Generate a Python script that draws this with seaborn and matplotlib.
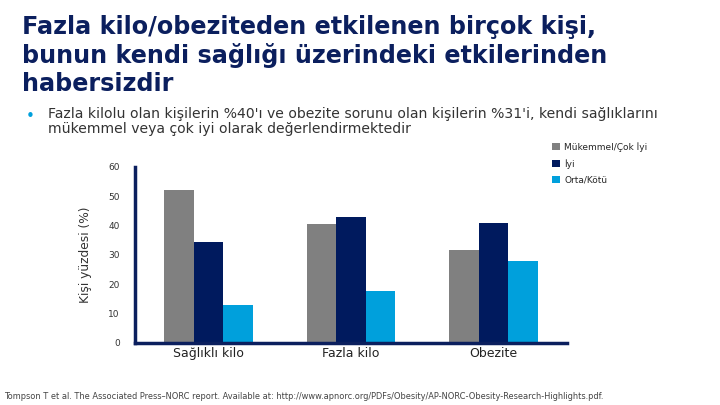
import matplotlib
matplotlib.use("Agg")
import matplotlib.pyplot as plt
import seaborn as sns
import pandas as pd
from matplotlib.patches import Patch

categories = ["Sağlıklı kilo", "Fazla kilo", "Obezite"]
series_names = ["Mükemmel/Çok İyi", "İyi", "Orta/Kötü"]
excellent = [52, 40.5, 31.5]
good = [34.5, 43, 41]
fair_poor = [13, 17.5, 28]
yticks = [0, 10, 20, 30, 40, 50, 60]

colors = ["#808080", "#001a5e", "#00a0dc"]
navy_text = "#0b1f5e"

rows = []
for name, vals in zip(series_names, [excellent, good, fair_poor]):
    for c, v in zip(categories, vals):
        rows.append({"Kategori": c, "Seri": name, "Değer": v})
df = pd.DataFrame(rows)

sns.set_theme(style="white")
plt.rcParams['font.family'] = ['DejaVu Sans']

fig = plt.figure(figsize=(7.2, 4.05), dpi=100)
ax = fig.add_axes([0.1875, 0.154, 0.6, 0.434])

sns.barplot(data=df, x="Kategori", y="Değer", hue="Seri", order=categories,
            hue_order=series_names, palette=colors, width=0.62, saturation=1,
            ax=ax, legend=False, edgecolor="none", linewidth=0)

ax.set_ylim(0, 60)
ax.set_xlim(-0.516, 2.515)
ax.set_yticks(yticks)
ax.set_yticklabels([str(t) for t in yticks], fontsize=6.5, color="#333333")
ax.tick_params(axis="y", length=3, width=1.5, color="#0b1f5e", pad=8)
ax.tick_params(axis="x", length=0, pad=3, labelsize=9, labelcolor="#222222")
ax.set_xlabel("")
ax.set_ylabel("Kişi yüzdesi (%)", fontsize=8.8, color="#333333", labelpad=12)
for s in ["top", "right"]:
    ax.spines[s].set_visible(False)
for s in ["left", "bottom"]:
    ax.spines[s].set_color("#0b1f5e")
    ax.spines[s].set_linewidth(2.5)

handles = [Patch(facecolor=c, edgecolor="none") for c in colors]
fig.legend(handles, series_names, loc="upper left", bbox_to_anchor=(0.762, 0.658),
           frameon=False, fontsize=6.5, handlelength=0.85, handleheight=0.85,
           labelspacing=0.78, handletextpad=0.5, borderaxespad=0)

fig.text(0.030, 0.963, "Fazla kilo/obeziteden etkilenen birçok kişi,\nbunun kendi sağlığı üzerindeki etkilerinden\nhabersizdir",
         fontsize=17.2, fontweight="bold", color=navy_text, va="top", ha="left", linespacing=1.21)
fig.text(0.036, 0.713, "•", fontsize=11, color="#00a0dc", va="center", ha="left")
fig.text(0.066, 0.700, "Fazla kilolu olan kişilerin %40'ı ve obezite sorunu olan kişilerin %31'i, kendi sağlıklarını\nmükemmel veya çok iyi olarak değerlendirmektedir",
         fontsize=10.05, color="#333333", va="center", ha="left", linespacing=1.1)
fig.text(0.006, 0.022, "Tompson T et al. The Associated Press–NORC report. Available at: http://www.apnorc.org/PDFs/Obesity/AP-NORC-Obesity-Research-Highlights.pdf.",
         fontsize=5.95, color="#444444", va="center", ha="left")

fig.savefig("out.png", dpi=100)
